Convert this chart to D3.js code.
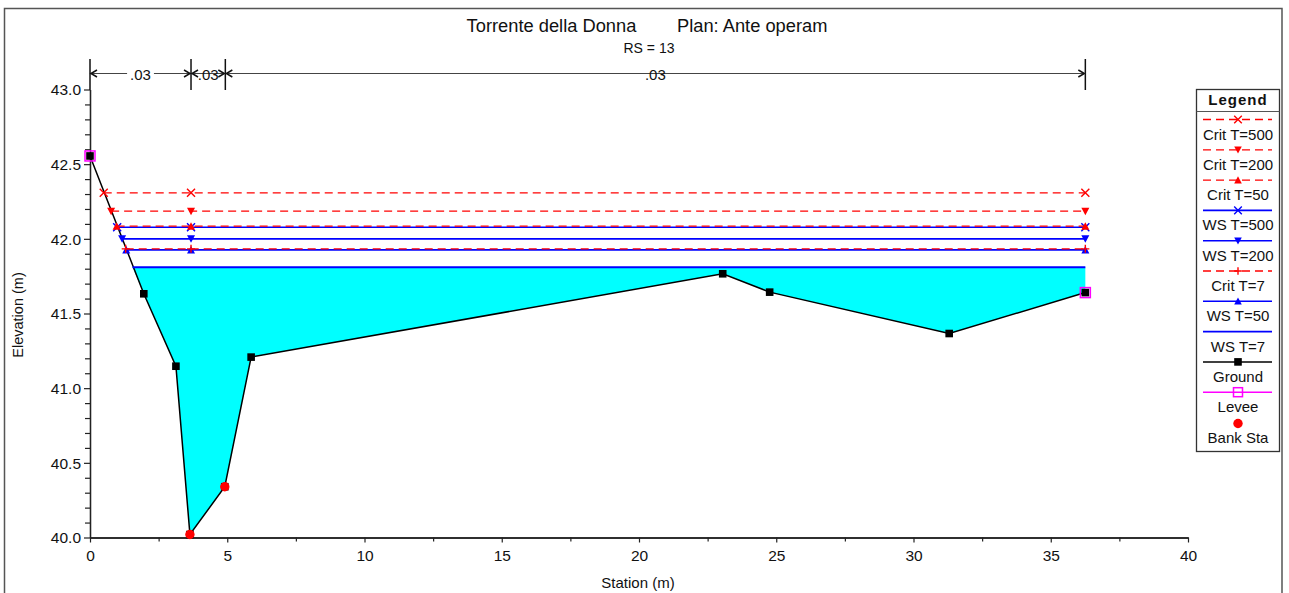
<!DOCTYPE html>
<html>
<head>
<meta charset="utf-8">
<script src="https://cdn.jsdelivr.net/npm/d3@7"></script>
<style>
  html, body { margin: 0; padding: 0; background: #fff; }
  svg { display: block; font-family: "Liberation Sans", Arial, sans-serif; }
</style>
</head>
<body>
<svg id="chart" width="1289" height="593"></svg>
<script>
// ---------------- DATA ----------------
const titleText = "Torrente della Donna        Plan: Ante operam";
const subTitle = "RS = 13";
const xTicks = [0, 5, 10, 15, 20, 25, 30, 35, 40];
const yTicks = [40.0, 40.5, 41.0, 41.5, 42.0, 42.5, 43.0];

const groundSta  = [0, 1.96, 3.13, 3.64, 4.91, 5.87, 23.05, 24.76, 31.30, 36.26];
const groundElev = [42.555, 41.632, 41.147, 40.02, 40.34, 41.208, 41.766, 41.643, 41.366, 41.64];

const leveeSta  = [0, 36.26];
const leveeElev = [42.555, 41.64];

const bankSta  = [3.64, 4.91];
const bankElev = [40.02, 40.34];

const nBreaks = [0, 3.68, 4.93, 36.26];
const nValues = [".03", ".03", ".03"];

const profileNames  = ["Crit T=500", "Crit T=200", "Crit T=50", "WS T=500", "WS T=200", "Crit T=7", "WS T=50", "WS T=7"];
const profileElev   = [42.308, 42.185, 42.085, 42.078, 42.000, 41.933, 41.926, 41.810];
const profileStart  = [0.50, 0.77, 0.97, 0.99, 1.17, 1.30, 1.32, 1.55];
const profileEnd    = 36.26;
const profileMidSta = 3.68;
const profileKind   = ["crit", "crit", "crit", "ws", "ws", "crit", "ws", "ws"];
const profileMarker = ["x", "down", "up", "x", "down", "plus", "up", "none"];

// ---------------- SETUP ----------------
const svg = d3.select("#chart");
const x = d3.scaleLinear().domain([0, 40]).range([90, 1188]);
const y = d3.scaleLinear().domain([40, 43]).range([537.5, 89.5]);

const RED = "#ff0000", BLUE = "#0000ff", MAG = "#ff00ff", CYAN = "#00ffff";

// outer frame
svg.append("rect").attr("x", 4.5).attr("y", 8.5).attr("width", 1277.5).attr("height", 600)
  .attr("fill", "none").attr("stroke", "#555").attr("stroke-width", 1.5);

// titles
svg.append("text").attr("x", 647).attr("y", 32).attr("text-anchor", "middle")
  .attr("font-size", 18.3).attr("fill", "#111").attr("xml:space", "preserve").style("white-space", "pre").text(titleText);
svg.append("text").attr("x", 649).attr("y", 53).attr("text-anchor", "middle")
  .attr("font-size", 14).attr("fill", "#111").text(subTitle);

// ---------------- WATER FILL ----------------
const ws7 = profileElev[7];
const fillPts = [[profileStart[7], ws7]];
groundSta.forEach((s, i) => { if (s > profileStart[7]) fillPts.push([s, groundElev[i]]); });
fillPts.push([profileEnd, ws7]);
svg.append("path")
  .attr("d", d3.line().x(d => x(d[0])).y(d => y(d[1]))(fillPts) + "Z")
  .attr("fill", CYAN).attr("stroke", "none");

// ---------------- AXES ----------------
const xAxis = svg.append("g").attr("transform", `translate(0,${y(40)})`)
  .call(d3.axisBottom(x).tickValues(xTicks).tickFormat(d3.format("d")).tickSize(5).tickSizeOuter(0));
const xMinor = svg.append("g").attr("transform", `translate(0,${y(40)})`)
  .call(d3.axisBottom(x).tickValues(d3.range(2.5, 40, 5)).tickFormat("").tickSize(4).tickSizeOuter(0));
const yAxis = svg.append("g").attr("transform", `translate(${x(0)},0)`)
  .call(d3.axisLeft(y).tickValues(yTicks).tickFormat(d3.format(".1f")).tickSize(6).tickSizeOuter(0));
const yMinor = svg.append("g").attr("transform", `translate(${x(0)},0)`)
  .call(d3.axisLeft(y).tickValues(d3.range(40.1, 43.05, 0.1).filter(v => Math.abs(v * 2 - Math.round(v * 2)) > 0.01)).tickFormat("").tickSize(5).tickSizeOuter(0));
[xAxis, xMinor, yAxis, yMinor].forEach(g => {
  g.selectAll(".domain").attr("stroke", "#222").attr("stroke-width", 1.3);
  g.selectAll(".tick line").attr("stroke", "#222").attr("stroke-width", 1.2);
  g.selectAll("text").attr("font-size", 15.5).attr("fill", "#111").attr("font-family", "Liberation Sans, Arial, sans-serif");
});
xAxis.selectAll("text").attr("dy", "1.0em");
yAxis.selectAll("text").attr("x", -9).attr("dy", "0.35em");

svg.append("text").attr("x", 638).attr("y", 588).attr("text-anchor", "middle")
  .attr("font-size", 15).attr("fill", "#111").text("Station (m)");
svg.append("text").attr("transform", `translate(23,${315}) rotate(-90)`).attr("text-anchor", "middle")
  .attr("font-size", 14.5).attr("fill", "#111").text("Elevation (m)");

// ---------------- MANNING N BAR ----------------
const nY = 73.5;
const nG = svg.append("g");
nBreaks.forEach(s => {
  nG.append("line").attr("x1", x(s)).attr("x2", x(s)).attr("y1", 59).attr("y2", 90)
    .attr("stroke", "#111").attr("stroke-width", 1.5);
});
for (let i = 0; i < nValues.length; i++) {
  const a = x(nBreaks[i]), b = x(nBreaks[i + 1]), m = (a + b) / 2;
  nG.append("line").attr("x1", a).attr("x2", b).attr("y1", nY).attr("y2", nY)
    .attr("stroke", "#444").attr("stroke-width", 1.2);
  nG.append("path").attr("d", `M${a + 7},${nY - 3.5}L${a + 1},${nY}L${a + 7},${nY + 3.5}`)
    .attr("fill", "none").attr("stroke", "#111").attr("stroke-width", 1.5);
  nG.append("path").attr("d", `M${b - 7},${nY - 3.5}L${b - 1},${nY}L${b - 7},${nY + 3.5}`)
    .attr("fill", "none").attr("stroke", "#111").attr("stroke-width", 1.5);
  const t = nG.append("text").attr("x", m).attr("y", nY + 6.5).attr("text-anchor", "middle")
    .attr("font-size", 15).attr("fill", "#111").text(nValues[i]);
  const w = t.node().getComputedTextLength();
  const pad = (b - a > w + 16) ? 3 : 0;
  nG.insert("rect", "text").attr("x", m - w / 2 - pad).attr("y", nY - 3).attr("width", w + 2 * pad).attr("height", 6).attr("fill", "#fff");
}
nG.selectAll("text").raise();

// ---------------- GROUND ----------------
const groundPts = groundSta.map((s, i) => [s, groundElev[i]]);
svg.append("path").attr("d", d3.line().x(d => x(d[0])).y(d => y(d[1]))(groundPts))
  .attr("fill", "none").attr("stroke", "#000").attr("stroke-width", 1.5);

// ---------------- MARKERS ----------------
function marker(g, kind, cx, cy, color, s) {
  s = s || 4;
  if (kind === "x") {
    g.append("path").attr("d", `M${cx - s},${cy - s}L${cx + s},${cy + s}M${cx - s},${cy + s}L${cx + s},${cy - s}`)
      .attr("stroke", color).attr("stroke-width", 1.4).attr("fill", "none");
  } else if (kind === "plus") {
    g.append("path").attr("d", `M${cx - s},${cy}L${cx + s},${cy}M${cx},${cy - s}L${cx},${cy + s}`)
      .attr("stroke", color).attr("stroke-width", 1.4).attr("fill", "none");
  } else if (kind === "down") {
    g.append("path").attr("d", `M${cx - s},${cy - s + 0.5}L${cx + s},${cy - s + 0.5}L${cx},${cy + s}Z`).attr("fill", color);
  } else if (kind === "up") {
    g.append("path").attr("d", `M${cx - s},${cy + s - 0.5}L${cx + s},${cy + s - 0.5}L${cx},${cy - s}Z`).attr("fill", color);
  } else if (kind === "square") {
    g.append("rect").attr("x", cx - s).attr("y", cy - s).attr("width", 2 * s).attr("height", 2 * s).attr("fill", color);
  } else if (kind === "hollow") {
    g.append("rect").attr("x", cx - s).attr("y", cy - s).attr("width", 2 * s).attr("height", 2 * s)
      .attr("fill", "none").attr("stroke", color).attr("stroke-width", 1.5);
  } else if (kind === "circle") {
    g.append("circle").attr("cx", cx).attr("cy", cy).attr("r", s).attr("fill", color);
  }
}

const lvG = svg.append("g");
leveeSta.forEach((s, i) => marker(lvG, "hollow", x(s), y(leveeElev[i]), MAG, 5));
const gmG = svg.append("g");
groundSta.forEach((s, i) => marker(gmG, "square", x(s), y(groundElev[i]), "#000", 3.8));
const bkG = svg.append("g");
bankSta.forEach((s, i) => marker(bkG, "circle", x(s), y(bankElev[i]), RED, 4.7));

// ---------------- PROFILES ----------------
const profG = svg.append("g");
for (let i = profileNames.length - 1; i >= 0; i--) {
  const e = profileElev[i];
  const crit = profileKind[i] === "crit";
  const yy = y(e);
  profG.append("line").attr("x1", x(profileStart[i])).attr("x2", x(profileEnd)).attr("y1", yy).attr("y2", yy)
    .attr("stroke", crit ? RED : BLUE).attr("stroke-width", crit ? 1.3 : (i === 7 ? 2 : 1.6))
    .attr("stroke-dasharray", crit ? "8,5" : null);
  if (profileMarker[i] !== "none") {
    [profileStart[i], profileMidSta, profileEnd].forEach(s =>
      marker(profG, profileMarker[i], x(s), yy, crit ? RED : BLUE, 4));
  }
}

// ---------------- LEGEND ----------------
const L = svg.append("g");
const lx0 = 1196.5, lx1 = 1279.5, lyTop = 89.5, lyBot = 451.5;
L.append("rect").attr("x", lx0).attr("y", lyTop).attr("width", lx1 - lx0).attr("height", lyBot - lyTop)
  .attr("fill", "#fff").attr("stroke", "#333").attr("stroke-width", 1.3);
L.append("line").attr("x1", lx0).attr("x2", lx1).attr("y1", 111.5).attr("y2", 111.5).attr("stroke", "#555").attr("stroke-width", 1.2);
L.append("text").attr("x", (lx0 + lx1) / 2).attr("y", 105).attr("text-anchor", "middle")
  .attr("font-size", 15).attr("font-weight", "bold").attr("letter-spacing", 1).attr("fill", "#111").text("Legend");

const legendNames = profileNames.concat(["Ground", "Levee", "Bank Sta"]);
const cxL = 1238, lineA = 1203, lineB = 1272;
legendNames.forEach((name, i) => {
  const ly = 119.5 + i * 30.3;
  if (i < profileNames.length) {
    const crit = profileKind[i] === "crit";
    L.append("line").attr("x1", lineA).attr("x2", lineB).attr("y1", ly).attr("y2", ly)
      .attr("stroke", crit ? RED : BLUE).attr("stroke-width", crit ? 1.3 : 1.6)
      .attr("stroke-dasharray", crit ? "8,5" : null);
    if (profileMarker[i] !== "none") marker(L, profileMarker[i], cxL, ly, crit ? RED : BLUE, 3.8);
  } else if (name === "Ground") {
    L.append("line").attr("x1", lineA).attr("x2", lineB).attr("y1", ly).attr("y2", ly).attr("stroke", "#000").attr("stroke-width", 1.5);
    marker(L, "square", cxL, ly, "#000", 3.8);
  } else if (name === "Levee") {
    L.append("line").attr("x1", lineA).attr("x2", lineB).attr("y1", ly).attr("y2", ly).attr("stroke", MAG).attr("stroke-width", 1.5);
    marker(L, "hollow", cxL, ly, MAG, 4.5);
  } else {
    marker(L, "circle", cxL, ly + 1, RED, 4.7);
  }
  L.append("text").attr("x", cxL).attr("y", ly + 20).attr("text-anchor", "middle")
    .attr("font-size", 15).attr("fill", "#111").text(name);
});
</script>
</body>
</html>
